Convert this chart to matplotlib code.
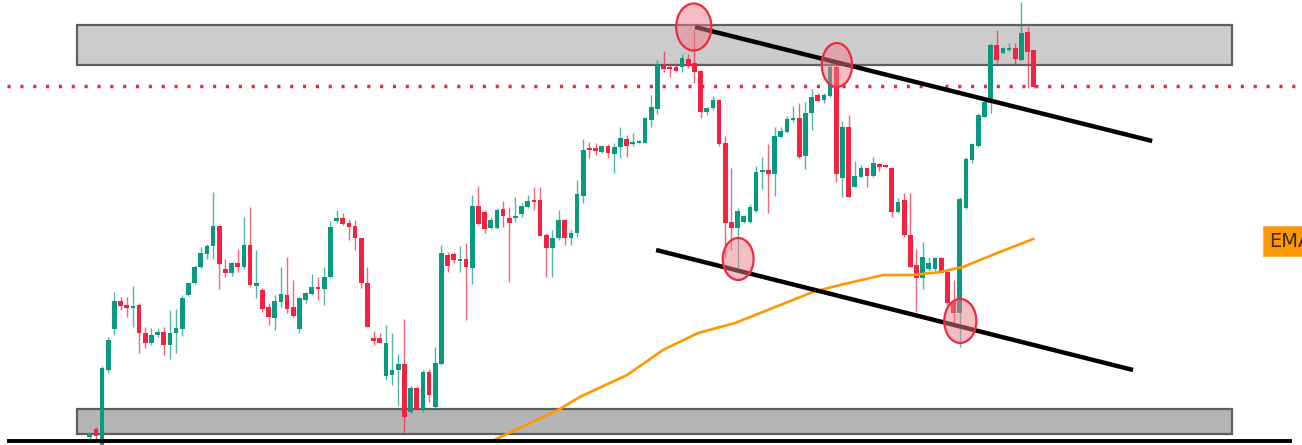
import matplotlib
matplotlib.use("Agg")
import matplotlib.pyplot as plt
from matplotlib.patches import Rectangle, Ellipse
import numpy as np

# candle data (price units), one entry per bar
opens = [8, 16, -5, 75, 116, 144, 140, 137, 140, 112, 102, 110, 113, 100, 112, 116,
         150, 162, 178, 191, 199, 219, 176, 172, 182, 178, 200, 159, 155, 138, 127, 143,
         150, 138, 116, 145, 151, 158, 156, 168, 224, 227, 222, 219, 207, 162, 107, 107,
         69, 70, 75, 81, 33, 57, 36, 73, 38, 81, 190, 191, 184, 186, 177, 239, 233, 217,
         217, 236, 227, 227, 231, 238, 245, 245, 210, 197, 207, 225, 207, 212, 249, 297,
         297, 293, 299, 291, 298, 306, 301, 302, 302, 325, 336, 380, 378, 378, 378, 386,
         382, 374, 333, 337, 345, 302, 223, 217, 223, 223, 234, 273, 275, 271, 308, 313,
         325, 327, 289, 332, 350, 345, 349, 378, 267, 318, 258, 268, 277, 269, 281, 280,
         277, 233, 245, 210, 180, 167, 176, 176, 187, 173, 143, 132, 237, 285, 299, 328,
         342, 400, 392, 395, 397, 385, 413, 395]
highs = [13, 18, 79, 108, 153, 148, 148, 159, 142, 118, 117, 117, 118, 135, 136, 150,
         163, 180, 198, 201, 253, 219, 186, 183, 196, 228, 238, 195, 157, 142, 150, 178,
         188, 165, 148, 153, 171, 168, 178, 224, 235, 232, 226, 225, 207, 178, 114, 112,
         120, 112, 91, 126, 59, 59, 75, 76, 98, 200, 193, 193, 199, 202, 250, 259, 235, 228,
         237, 244, 238, 248, 242, 250, 258, 258, 212, 215, 235, 226, 215, 265, 306, 303,
         302, 299, 301, 302, 318, 310, 312, 305, 328, 350, 385, 394, 382, 382, 391, 391,
         415, 375, 338, 349, 346, 309, 277, 237, 230, 241, 279, 288, 301, 318, 318, 329,
         339, 342, 343, 356, 352, 352, 382, 382, 324, 330, 284, 280, 277, 288, 282, 281,
         278, 247, 252, 252, 196, 203, 188, 188, 188, 174, 165, 248, 288, 302, 332, 348,
         402, 415, 398, 402, 402, 443, 418, 395]
lows = [4, 4, -5, 72, 110, 135, 128, 118, 92, 97, 100, 108, 90, 86, 92, 109,
        149, 161, 177, 186, 186, 156, 168, 169, 173, 176, 159, 147, 133, 120, 115, 138,
        132, 128, 112, 142, 150, 145, 140, 167, 222, 220, 205, 195, 157, 118, 100, 102,
        65, 60, 39, 12, 32, 35, 33, 43, 36, 80, 173, 182, 173, 125, 161, 220, 212, 216,
        216, 218, 163, 223, 228, 237, 235, 209, 168, 168, 205, 200, 200, 208, 242, 287,
        290, 292, 287, 272, 287, 288, 299, 302, 302, 318, 331, 373, 368, 373, 373, 377,
        362, 327, 330, 335, 299, 187, 195, 173, 222, 222, 233, 256, 232, 249, 307, 312,
        323, 287, 276, 315, 343, 342, 348, 263, 248, 248, 258, 268, 258, 268, 274, 277,
        228, 232, 208, 178, 133, 156, 174, 174, 172, 140, 122, 98, 236, 282, 298, 328,
        332, 382, 391, 394, 380, 384, 357, 357]
closes = [12, 9, 77, 105, 144, 139, 137, 139, 112, 102, 110, 113, 100, 112, 117, 147,
          162, 178, 192, 199, 219, 181, 172, 182, 178, 200, 160, 162, 136, 128, 144, 151,
          136, 129, 147, 152, 158, 156, 168, 218, 227, 221, 218, 207, 162, 118, 104, 102,
          102, 75, 81, 28, 57, 36, 73, 50, 82, 192, 179, 185, 186, 178, 239, 221, 216, 225,
          235, 229, 222, 229, 239, 244, 243, 209, 197, 207, 225, 207, 212, 251, 295, 295,
          294, 299, 292, 298, 307, 299, 303, 304, 327, 338, 381, 376, 376, 374, 387, 380,
          373, 333, 337, 345, 301, 222, 217, 234, 229, 238, 273, 275, 271, 309, 314, 326,
          327, 288, 332, 348, 344, 350, 378, 271, 318, 248, 269, 277, 269, 282, 278, 278,
          233, 243, 210, 178, 167, 188, 182, 187, 172, 142, 132, 246, 286, 301, 330, 343,
          400, 385, 397, 397, 386, 412, 393, 358]

# EMA line at a few bars
ema_bar = [65.2, 76.2, 79.4, 87.1, 92.9, 98.6, 104.6, 110.7, 117.2, 121.6, 128.6,
           133.4, 137.8, 141.5, 147.5, 152.9]
ema_val = [4, 36, 48, 70, 95, 112, 122, 137, 153, 160, 170, 170, 173, 178, 193, 206]

# zones, levels, channel and swing points
resist_zone = (380, 420)
support_zone = (11, 36)
zone_bars = (-2.06, 185.1)
level_price = 359
upper_line = ([98.1, 172.2], [418, 304])
lower_line = ([91.8, 169.1], [195, 75])
swing_bar = [97.9, 121.1, 105.1, 141.1]
swing_price = [418, 380, 186, 124]
swing_w = [5.7, 4.9, 5.0, 5.2]
swing_h = [47, 44, 42, 44]

GREEN = '#089981'
RED = '#f5213f'

fig = plt.figure(figsize=(13.02, 4.45), dpi=100)
ax = fig.add_axes([0, 0, 1, 1])
ax.set_xlim(-14.54, 196.48)
ax.set_ylim(0, 445)
ax.axis('off')

# grey zones
for lo, hi, fc in [(*resist_zone, '#cccccc'), (*support_zone, '#b4b4b4')]:
    ax.add_patch(Rectangle((zone_bars[0], lo), zone_bars[1] - zone_bars[0], hi - lo,
                           facecolor=fc, edgecolor='#5e5e5e', lw=1.6, zorder=1))

# dotted level
ax.plot([-13.4, 196.5], [level_price, level_price], color='#f0283c', lw=2.5,
        linestyle=(0, (0.9, 2.8)), zorder=2)

# candles
o = np.array(opens)
h = np.array(highs)
l = np.array(lows)
c = np.array(closes)
x = np.arange(len(o))
up = c >= o
cols = np.where(up, GREEN, RED)
ax.vlines(x, l, h, colors=cols, lw=1.0, alpha=0.7, zorder=3)
body_lo = np.minimum(o, c)
body_h = np.maximum(np.abs(c - o), 1.5)
ax.bar(x, body_h, bottom=body_lo, width=0.76, color=cols, lw=0, zorder=4)

# EMA
ax.plot(ema_bar, ema_val, color='#ff9800', lw=1.9, zorder=5)

# channel lines
ax.plot(*upper_line, color='black', lw=3.2, solid_capstyle='butt', zorder=6)
ax.plot(*lower_line, color='black', lw=3.2, solid_capstyle='butt', zorder=6)

# swing circles
for bx, py, w, hh in zip(swing_bar, swing_price, swing_w, swing_h):
    ax.add_patch(Ellipse((bx, py), w, hh, facecolor='#f07d8b', alpha=0.5, lw=0, zorder=7))
    ax.add_patch(Ellipse((bx, py), w, hh, facecolor='none', edgecolor='#ef2a40', lw=1.6, zorder=8))

# bottom rule
ax.plot([-13.4, 194.9], [4.5, 4.5], color='black', lw=2.8, solid_capstyle='butt', zorder=9)

# EMA tag on the right edge, cut by the chart border
ax.add_patch(Rectangle((190.2, 189), 10, 30, facecolor='#ff9800', edgecolor='#ffb347',
                       lw=0.8, zorder=10))
ax.text(191.2, 203.5, 'EMA', fontsize=14, color='#3b2a05', va='center', ha='left',
        zorder=11)

fig.savefig('out.png', dpi=100)
